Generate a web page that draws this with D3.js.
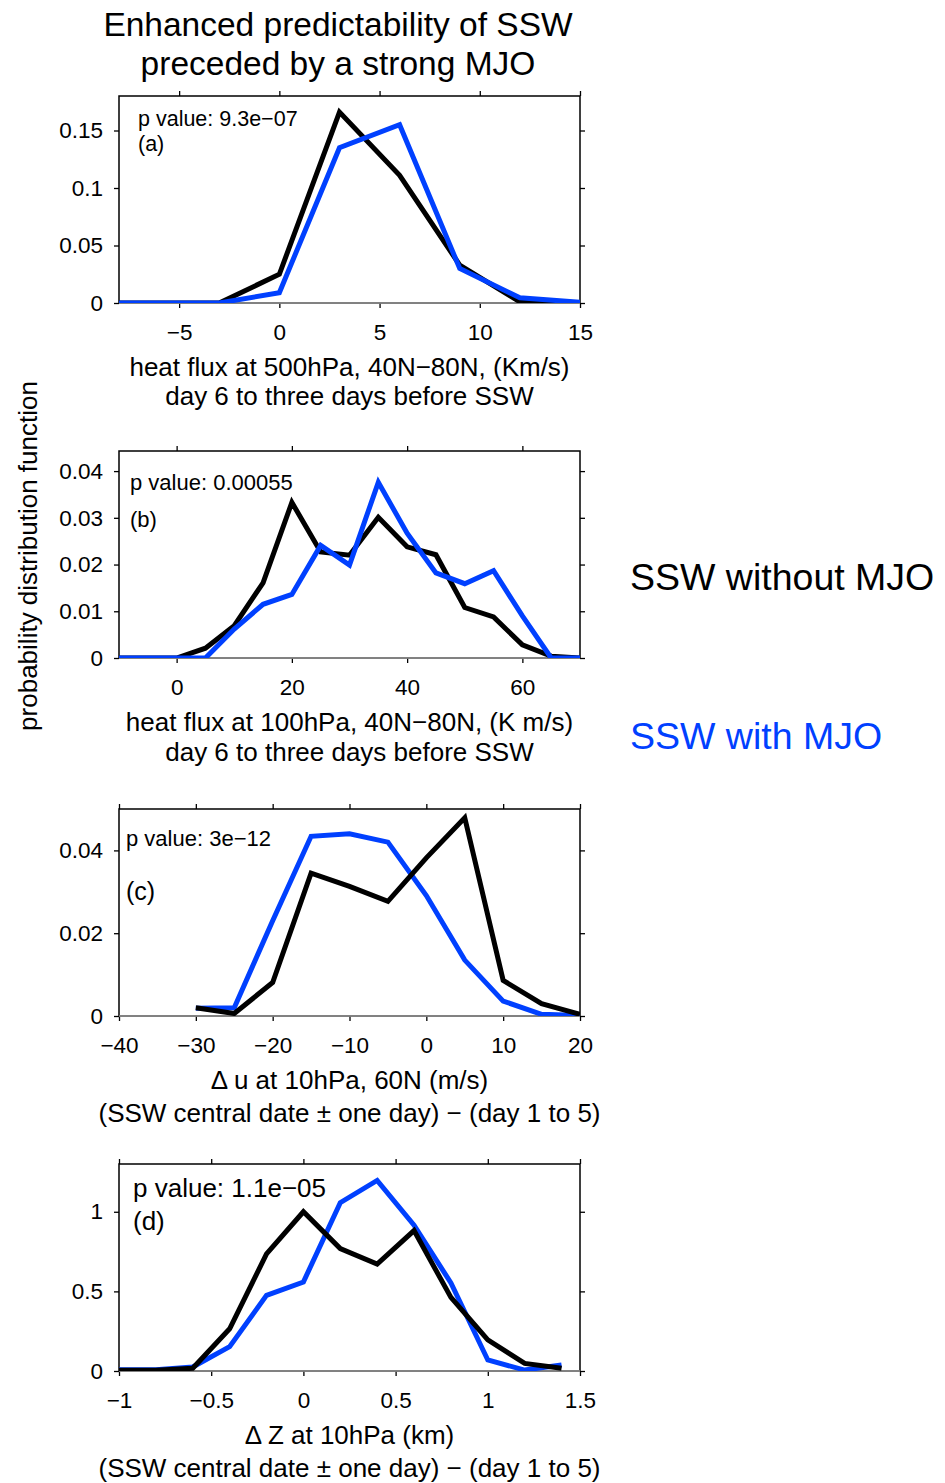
<!DOCTYPE html>
<html>
<head>
<meta charset="utf-8">
<script src="https://cdn.jsdelivr.net/npm/d3@7"></script>
<style>
  body { margin: 0; background: #fff; }
  svg text { font-family: "Liberation Sans", Arial, Helvetica, sans-serif; fill: #000; }
</style>
</head>
<body>
<div id="chart"></div>
<script>
// panel (a): heat flux at 500hPa
var xA = [-9, -6, -3, 0, 3, 6, 9, 12, 15];
var noMjoA = [0, 0, 0, 0.025, 0.166, 0.111, 0.033, 0.001, 0];
var mjoA = [0, 0, 0, 0.009, 0.135, 0.155, 0.030, 0.0045, 0.0006];

// panel (b): heat flux at 100hPa
var xB = [-10, -5, 0, 5, 10, 15, 20, 25, 30, 35, 40, 45, 50, 55, 60, 65, 70];
var noMjoB = [0, 0, 0, 0.0021, 0.0069, 0.0161, 0.0333, 0.0227, 0.022, 0.0301, 0.0238, 0.0221, 0.0108, 0.0088, 0.0028, 0.0004, 0];
var mjoB = [0, 0, 0, 0, 0.0062, 0.0115, 0.0136, 0.0241, 0.0199, 0.0376, 0.0267, 0.0182, 0.0159, 0.0187, 0.009, 0, 0];

// panel (c): delta u at 10hPa, 60N
var xC = [-30, -25, -20, -15, -10, -5, 0, 5, 10, 15, 20];
var noMjoC = [0.002, 0.0006, 0.0081, 0.0345, 0.0313, 0.0277, 0.0382, 0.0479, 0.0086, 0.003, 0.0004];
var mjoC = [0.0019, 0.002, 0.023, 0.0434, 0.044, 0.042, 0.0291, 0.0135, 0.0036, 0.0004, 0.0001];

// panel (d): delta Z at 10hPa
var xD = [-1, -0.8, -0.6, -0.4, -0.2, 0, 0.2, 0.4, 0.6, 0.8, 1, 1.2, 1.4];
var noMjoD = [0.005, 0.005, 0.017, 0.265, 0.735, 1.0, 0.769, 0.672, 0.882, 0.462, 0.195, 0.048, 0.017];
var mjoD = [0.008, 0.008, 0.025, 0.153, 0.475, 0.559, 1.057, 1.197, 0.916, 0.553, 0.069, 0.006, 0.038];

// axis ticks
var xTicksA = [-5, 0, 5, 10, 15];
var yTicksA = [0, 0.05, 0.1, 0.15];
var xTicksB = [0, 20, 40, 60];
var yTicksB = [0, 0.01, 0.02, 0.03, 0.04];
var xTicksC = [-40, -30, -20, -10, 0, 10, 20];
var yTicksC = [0, 0.02, 0.04];
var xTicksD = [-1, -0.5, 0, 0.5, 1, 1.5];
var yTicksD = [0, 0.5, 1];

var black = "#000000";
var blue = "#0040ff";

var svg = d3.select("#chart").append("svg")
    .attr("width", 945)
    .attr("height", 1483);

var left = 119, width = 461, height = 207;

function fmt(d) {
  return String(d).replace("-", "\u2212");
}

// one panel with frame, mirrored ticks, two pdf lines
function drawPanel(opt) {
  var g = svg.append("g")
    .attr("transform", "translate(" + left + "," + opt.top + ")");

  var x = d3.scaleLinear().domain(opt.xdom).range([0, width]);
  var y = d3.scaleLinear().domain(opt.ydom).range([height, 0]);

  var clipId = "clip" + opt.tag;
  g.append("clipPath").attr("id", clipId)
    .append("rect").attr("width", width).attr("height", height);

  // ticks on all four sides, pointing out
  g.append("g").attr("class", "axis")
    .attr("transform", "translate(0," + height + ")")
    .call(d3.axisBottom(x).tickValues(opt.xticks).tickSize(5).tickSizeOuter(0).tickPadding(16).tickFormat(fmt));
  g.append("g").attr("class", "axis")
    .call(d3.axisTop(x).tickValues(opt.xticks).tickSize(5).tickSizeOuter(0).tickFormat(""));
  g.append("g").attr("class", "axis")
    .call(d3.axisLeft(y).tickValues(opt.yticks).tickSize(5).tickSizeOuter(0).tickPadding(11).tickFormat(fmt));
  g.append("g").attr("class", "axis")
    .attr("transform", "translate(" + width + ",0)")
    .call(d3.axisRight(y).tickValues(opt.yticks).tickSize(5).tickSizeOuter(0).tickFormat(""));

  g.selectAll(".axis .domain").remove();
  g.selectAll(".axis line").attr("stroke", "#000").attr("stroke-width", 1.3);
  g.selectAll(".axis text").style("font-size", "22.5px").attr("fill", "#000");

  g.append("rect")
    .attr("width", width)
    .attr("height", height)
    .attr("fill", "none")
    .attr("stroke", "#000")
    .attr("stroke-width", 1.5);

  // zero line
  g.append("line")
    .attr("x1", 0).attr("x2", width)
    .attr("y1", y(0)).attr("y2", y(0))
    .attr("stroke", "#999")
    .attr("stroke-width", 1.5);

  var line = d3.line()
    .x(function (d) { return x(d[0]); })
    .y(function (d) { return y(d[1]); });

  var series = [
    { vals: opt.black, color: black },
    { vals: opt.blue, color: blue }
  ];
  if (opt.blackOnTop) series.reverse();

  series.forEach(function (s) {
    g.append("path")
      .datum(opt.xs.map(function (v, i) { return [v, s.vals[i]]; }))
      .attr("clip-path", "url(#" + clipId + ")")
      .attr("fill", "none")
      .attr("stroke", s.color)
      .attr("stroke-width", 5)
      .attr("stroke-linejoin", "miter")
      .attr("d", line);
  });

  // p value and panel letter
  g.append("text")
    .attr("x", opt.pv[0]).attr("y", opt.pv[1])
    .style("font-size", opt.pvSize + "px")
    .text(opt.pvText);
  g.append("text")
    .attr("x", opt.pl[0]).attr("y", opt.pl[1])
    .style("font-size", opt.plSize + "px")
    .text(opt.plText);

  // x label lines
  opt.xlabel.forEach(function (t, i) {
    g.append("text")
      .attr("x", width / 2)
      .attr("y", height + opt.labelY[i])
      .attr("text-anchor", "middle")
      .style("font-size", "26px")
      .text(t);
  });
}

drawPanel({
  tag: "a", top: 96, xdom: [-8, 15], ydom: [0, 0.18],
  xticks: xTicksA, yticks: yTicksA,
  xs: xA, black: noMjoA, blue: mjoA, blackOnTop: false,
  pv: [19, 30], pvSize: 21.5, pvText: "p value: 9.3e\u221207",
  pl: [19, 55], plSize: 21.5, plText: "(a)",
  xlabel: ["heat flux at 500hPa, 40N\u221280N, (Km/s)", "day 6 to three days before SSW"],
  labelY: [73, 102]
});

drawPanel({
  tag: "b", top: 451, xdom: [-10, 70], ydom: [0, 0.0443],
  xticks: xTicksB, yticks: yTicksB,
  xs: xB, black: noMjoB, blue: mjoB, blackOnTop: false,
  pv: [11, 39], pvSize: 22, pvText: "p value: 0.00055",
  pl: [11, 76], plSize: 22, plText: "(b)",
  xlabel: ["heat flux at 100hPa, 40N\u221280N, (K m/s)", "day 6 to three days before SSW"],
  labelY: [73, 103]
});

drawPanel({
  tag: "c", top: 809, xdom: [-40, 20], ydom: [0, 0.05],
  xticks: xTicksC, yticks: yTicksC,
  xs: xC, black: noMjoC, blue: mjoC, blackOnTop: true,
  pv: [7, 37], pvSize: 22, pvText: "p value: 3e\u221212",
  pl: [7, 91], plSize: 25, plText: "(c)",
  xlabel: ["\u0394 u at 10hPa, 60N (m/s)", "(SSW central date \u00b1 one day) \u2212 (day 1 to 5)"],
  labelY: [73, 106]
});

drawPanel({
  tag: "d", top: 1164, xdom: [-1, 1.5], ydom: [0, 1.3],
  xticks: xTicksD, yticks: yTicksD,
  xs: xD, black: noMjoD, blue: mjoD, blackOnTop: true,
  pv: [14, 33], pvSize: 26, pvText: "p value: 1.1e\u221205",
  pl: [14, 66], plSize: 26, plText: "(d)",
  xlabel: ["\u0394 Z at 10hPa (km)", "(SSW central date \u00b1 one day) \u2212 (day 1 to 5)"],
  labelY: [73, 106]
});

// title
svg.append("text")
  .attr("x", 338).attr("y", 36)
  .attr("text-anchor", "middle")
  .style("font-size", "33.5px")
  .text("Enhanced predictability of SSW");
svg.append("text")
  .attr("x", 338).attr("y", 75)
  .attr("text-anchor", "middle")
  .style("font-size", "33.5px")
  .text("preceded by a strong MJO");

// shared y label
svg.append("text")
  .attr("transform", "translate(37,556) rotate(-90)")
  .attr("text-anchor", "middle")
  .style("font-size", "26px")
  .text("probability distribution function");

// legend
svg.append("text")
  .attr("x", 630).attr("y", 590)
  .style("font-size", "37.5px")
  .text("SSW without MJO");
svg.append("text")
  .attr("x", 630).attr("y", 749)
  .style("font-size", "37.5px")
  .style("fill", blue)
  .text("SSW with MJO");
</script>
</body>
</html>
